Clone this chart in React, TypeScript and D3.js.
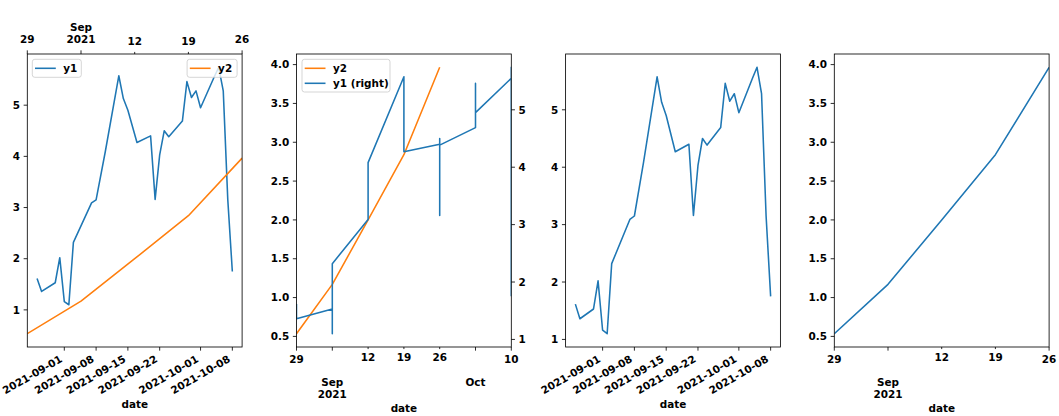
import React from 'react';
import * as d3 from 'd3';

// y1: irregular daily series (business days)
const y1Dates = [
  '2021-08-26', '2021-08-27', '2021-08-30', '2021-08-31', '2021-09-01', '2021-09-02', '2021-09-03',
  '2021-09-07', '2021-09-08', '2021-09-10', '2021-09-13', '2021-09-14', '2021-09-15', '2021-09-17',
  '2021-09-20', '2021-09-21', '2021-09-22', '2021-09-23', '2021-09-24', '2021-09-27', '2021-09-28',
  '2021-09-29', '2021-09-30', '2021-10-01', '2021-10-04', '2021-10-05', '2021-10-06', '2021-10-07',
  '2021-10-08'
];
const y1Values = [
  1.615, 1.36, 1.53, 2.02, 1.16, 1.10, 2.32,
  3.09, 3.15, 4.08, 5.575, 5.13, 4.90, 4.27,
  4.40, 3.16, 4.03, 4.50, 4.385, 4.69, 5.46,
  5.15, 5.28, 4.95, 5.55, 5.74, 5.28, 3.15,
  1.75
];

// y2: weekly series (W-SUN)
const y2Dates = ['2021-08-29', '2021-09-05', '2021-09-12', '2021-09-19', '2021-09-26'];
const y2Values = [0.535, 1.17, 2.0, 2.84, 3.965];

// tick definitions
const dateTicks = ['2021-09-01', '2021-09-08', '2021-09-15', '2021-09-22', '2021-10-01', '2021-10-08'];
const weekTicksShort = ['2021-08-29', '2021-09-05', '2021-09-12', '2021-09-19', '2021-09-26'];
const weekLabelsShort = [['29'], ['', '', 'Sep', '2021'], ['12'], ['19'], ['26']];
const weekMajorShort = [true, true, false, false, true];
const weekTicksLong = ['2021-08-29', '2021-09-05', '2021-09-12', '2021-09-19', '2021-09-26', '2021-10-03', '2021-10-10'];
const weekLabelsLong = [['29'], ['', '', 'Sep', '2021'], ['12'], ['19'], ['26'], ['', '', 'Oct'], ['10']];
const weekMajorLong = [true, true, false, false, false, true, true];
const intTicks = [1, 2, 3, 4, 5];
const halfTicks = [0.5, 1.0, 1.5, 2.0, 2.5, 3.0, 3.5, 4.0];

const W = 1059, H = 416;
const TOP = 54, BOTTOM = 347;
const PANEL_LEFT = [27.3, 296.5, 565.6, 834.3];
const PANEL_W = 214.8;
const FONT = '"DejaVu Sans", sans-serif';
const FS = 10.42;
const BLUE = '#1f77b4', ORANGE = '#ff7f0e';
const LW = 0.83, MAJ = 3.65, MIN = 2.08, PAD = 3.65;
const LINE_H = 11.7;

const parse = d3.utcParse('%Y-%m-%d');
const y1D = y1Dates.map(d => parse(d) as Date);
const y2D = y2Dates.map(d => parse(d) as Date);

const padNum = (vals: number[]) => {
  const [lo, hi] = d3.extent(vals) as [number, number];
  const p = (hi - lo) * 0.05;
  return [lo - p, hi + p];
};
const padDate = (vals: Date[]) => {
  const [lo, hi] = d3.extent(vals) as [Date, Date];
  const p = (+hi - +lo) * 0.05;
  return [new Date(+lo - p), new Date(+hi + p)];
};

function Frame({ x0, x1 }: { x0: number; x1: number }) {
  return <rect x={x0} y={TOP} width={x1 - x0} height={BOTTOM - TOP} fill="none" stroke="#000" strokeWidth={LW} />;
}

function YAxis({ scale, ticks, x, side, fmt }: any) {
  const dir = side === 'left' ? -1 : 1;
  return (
    <g>
      {ticks.map((t: number, i: number) => (
        <g key={i}>
          <line x1={x} x2={x + dir * MAJ} y1={scale(t)} y2={scale(t)} stroke="#000" strokeWidth={LW} />
          <text x={x + dir * (MAJ + PAD)} y={scale(t)} dy="0.36em" textAnchor={side === 'left' ? 'end' : 'start'}>
            {fmt(t)}
          </text>
        </g>
      ))}
    </g>
  );
}

function DateAxis({ scale, ticks }: any) {
  return (
    <g>
      {ticks.map((t: string, i: number) => {
        const x = scale(parse(t));
        return (
          <g key={i}>
            <line x1={x} x2={x} y1={BOTTOM} y2={BOTTOM + MAJ} stroke="#000" strokeWidth={LW} />
            <text textAnchor="end" transform={`translate(${x - 1.3},${BOTTOM + MAJ + PAD + 6.9}) rotate(-30)`}>{t}</text>
          </g>
        );
      })}
    </g>
  );
}

function PeriodAxis({ scale, ticks, labels, major, side }: any) {
  return (
    <g>
      {ticks.map((t: string, i: number) => {
        const x = scale(parse(t));
        const len = major[i] ? MAJ : MIN;
        const lines: string[] = labels[i];
        if (side === 'bottom') {
          const base = BOTTOM + len + PAD + 8.3;
          return (
            <g key={i}>
              <line x1={x} x2={x} y1={BOTTOM} y2={BOTTOM + len} stroke="#000" strokeWidth={LW} />
              {lines.map((s, j) => s ? (
                <text key={j} x={x} y={base + j * LINE_H} textAnchor="middle">{s}</text>
              ) : null)}
            </g>
          );
        }
        const base = TOP - len - PAD - 3.6;
        const n = lines.length;
        return (
          <g key={i}>
            <line x1={x} x2={x} y1={TOP} y2={TOP - len} stroke="#000" strokeWidth={LW} />
            {lines.map((s, j) => s ? (
              <text key={j} x={x} y={base - (n - 1 - j) * LINE_H} textAnchor="middle">{s}</text>
            ) : null)}
          </g>
        );
      })}
    </g>
  );
}

function Legend({ x, y, w, items }: any) {
  const h = 18 + (items.length - 1) * 14.7;
  return (
    <g>
      <rect x={x} y={y} width={w} height={h} rx={2.5} fill="#fff" fillOpacity={0.8} stroke="#cccccc" strokeWidth={LW} />
      {items.map((it: any, i: number) => {
        const cy = y + 9 + i * 15;
        return (
          <g key={i}>
            <line x1={x + 2.7} x2={x + 23.5} y1={cy} y2={cy} stroke={it.color} strokeWidth={1.56} />
            <text x={x + 31} y={cy} dy="0.36em">{it.label}</text>
          </g>
        );
      })}
    </g>
  );
}

function XLabel({ x0, x1, y }: { x0: number; x1: number; y: number }) {
  return <text x={(x0 + x1) / 2} y={y} textAnchor="middle">date</text>;
}

export default function App() {
  const fmtInt = d3.format('d');
  const fmtHalf = d3.format('.1f');

  const lineGen = (xs: number[], ys: number[]) =>
    d3.line<number>().x((_, i) => xs[i]).y((_, i) => ys[i])(xs.map((_, i) => i)) || '';

  // ---- panel 1: y1 on date axis, y2 on twin (top) period axis
  const p1x0 = PANEL_LEFT[0], p1x1 = p1x0 + PANEL_W;
  const p1xDate = d3.scaleUtc().domain(padDate(y1D)).range([p1x0, p1x1]);
  const p1xWeek = d3.scaleUtc().domain(d3.extent(y2D) as [Date, Date]).range([p1x0, p1x1]);
  const p1y = d3.scaleLinear().domain(padNum([...y1Values, ...y2Values])).range([BOTTOM, TOP]);
  const p1Blue = lineGen(y1D.map(d => p1xDate(d)), y1Values.map(v => p1y(v)));
  const p1Orange = lineGen(y2D.map(d => p1xWeek(d)), y2Values.map(v => p1y(v)));

  // ---- panel 2: y2 left, y1 right (secondary), weekly period axis
  const p2x0 = PANEL_LEFT[1], p2x1 = p2x0 + PANEL_W;
  const weekOf = y1D.map(d => d3.utcSunday.ceil(d));
  const p2x = d3.scaleUtc().domain([y2D[0], d3.max(weekOf) as Date]).range([p2x0, p2x1]);
  const p2yL = d3.scaleLinear().domain(padNum(y2Values)).range([BOTTOM, TOP]);
  const p2yR = d3.scaleLinear().domain(padNum(y1Values)).range([BOTTOM, TOP]);
  const p2Orange = lineGen(y2D.map(d => p2x(d)), y2Values.map(v => p2yL(v)));
  const p2Blue = lineGen(weekOf.map(d => p2x(d)), y1Values.map(v => p2yR(v)));

  // ---- panel 3: y1 only
  const p3x0 = PANEL_LEFT[2], p3x1 = p3x0 + PANEL_W;
  const p3x = d3.scaleUtc().domain(padDate(y1D)).range([p3x0, p3x1]);
  const p3y = d3.scaleLinear().domain(padNum(y1Values)).range([BOTTOM, TOP]);
  const p3Blue = lineGen(y1D.map(d => p3x(d)), y1Values.map(v => p3y(v)));

  // ---- panel 4: y2 only
  const p4x0 = PANEL_LEFT[3], p4x1 = p4x0 + PANEL_W;
  const p4x = d3.scaleUtc().domain(d3.extent(y2D) as [Date, Date]).range([p4x0, p4x1]);
  const p4y = d3.scaleLinear().domain(padNum(y2Values)).range([BOTTOM, TOP]);
  const p4Line = lineGen(y2D.map(d => p4x(d)), y2Values.map(v => p4y(v)));

  const clips = PANEL_LEFT.map((l, i) => (
    <clipPath id={`clip${i}`} key={i}>
      <rect x={l} y={TOP} width={PANEL_W} height={BOTTOM - TOP} />
    </clipPath>
  ));

  return (
    <div style={{ position: 'absolute', left: 0, top: 0 }}>
      <svg width={W} height={H} style={{ display: 'block' }} fontFamily={FONT} fontWeight="bold" fontSize={FS}>
        <defs>{clips}</defs>
        <rect width={W} height={H} fill="#fff" />

        {/* panel 1 */}
        <g clipPath="url(#clip0)" fill="none" strokeWidth={1.56} strokeLinejoin="round">
          <path d={p1Blue} stroke={BLUE} />
          <path d={p1Orange} stroke={ORANGE} />
        </g>
        <Frame x0={p1x0} x1={p1x1} />
        <YAxis scale={p1y} ticks={intTicks} x={p1x0} side="left" fmt={fmtInt} />
        <DateAxis scale={p1xDate} ticks={dateTicks} />
        <PeriodAxis scale={p1xWeek} ticks={weekTicksShort} labels={weekLabelsShort} major={weekMajorShort} side="top" />
        <XLabel x0={p1x0} x1={p1x1} y={408.3} />
        <Legend x={p1x0 + 5} y={59.3} w={49} items={[{ label: 'y1', color: BLUE }]} />
        <Legend x={p1x1 - 5 - 50} y={59.3} w={50} items={[{ label: 'y2', color: ORANGE }]} />

        {/* panel 2 */}
        <g clipPath="url(#clip1)" fill="none" strokeWidth={1.56} strokeLinejoin="round">
          <path d={p2Orange} stroke={ORANGE} />
          <path d={p2Blue} stroke={BLUE} />
        </g>
        <Frame x0={p2x0} x1={p2x1} />
        <YAxis scale={p2yL} ticks={halfTicks} x={p2x0} side="left" fmt={fmtHalf} />
        <YAxis scale={p2yR} ticks={intTicks} x={p2x1} side="right" fmt={fmtInt} />
        <PeriodAxis scale={p2x} ticks={weekTicksLong} labels={weekLabelsLong} major={weekMajorLong} side="bottom" />
        <XLabel x0={p2x0} x1={p2x1} y={411.7} />
        <Legend x={p2x0 + 5.5} y={59.3} w={88} items={[{ label: 'y2', color: ORANGE }, { label: 'y1 (right)', color: BLUE }]} />

        {/* panel 3 */}
        <g clipPath="url(#clip2)" fill="none" strokeWidth={1.56} strokeLinejoin="round">
          <path d={p3Blue} stroke={BLUE} />
        </g>
        <Frame x0={p3x0} x1={p3x1} />
        <YAxis scale={p3y} ticks={intTicks} x={p3x0} side="left" fmt={fmtInt} />
        <DateAxis scale={p3x} ticks={dateTicks} />
        <XLabel x0={p3x0} x1={p3x1} y={408.3} />

        {/* panel 4 */}
        <g clipPath="url(#clip3)" fill="none" strokeWidth={1.56} strokeLinejoin="round">
          <path d={p4Line} stroke={BLUE} />
        </g>
        <Frame x0={p4x0} x1={p4x1} />
        <YAxis scale={p4y} ticks={halfTicks} x={p4x0} side="left" fmt={fmtHalf} />
        <PeriodAxis scale={p4x} ticks={weekTicksShort} labels={weekLabelsShort} major={weekMajorShort} side="bottom" />
        <XLabel x0={p4x0} x1={p4x1} y={411.7} />
      </svg>
    </div>
  );
}
